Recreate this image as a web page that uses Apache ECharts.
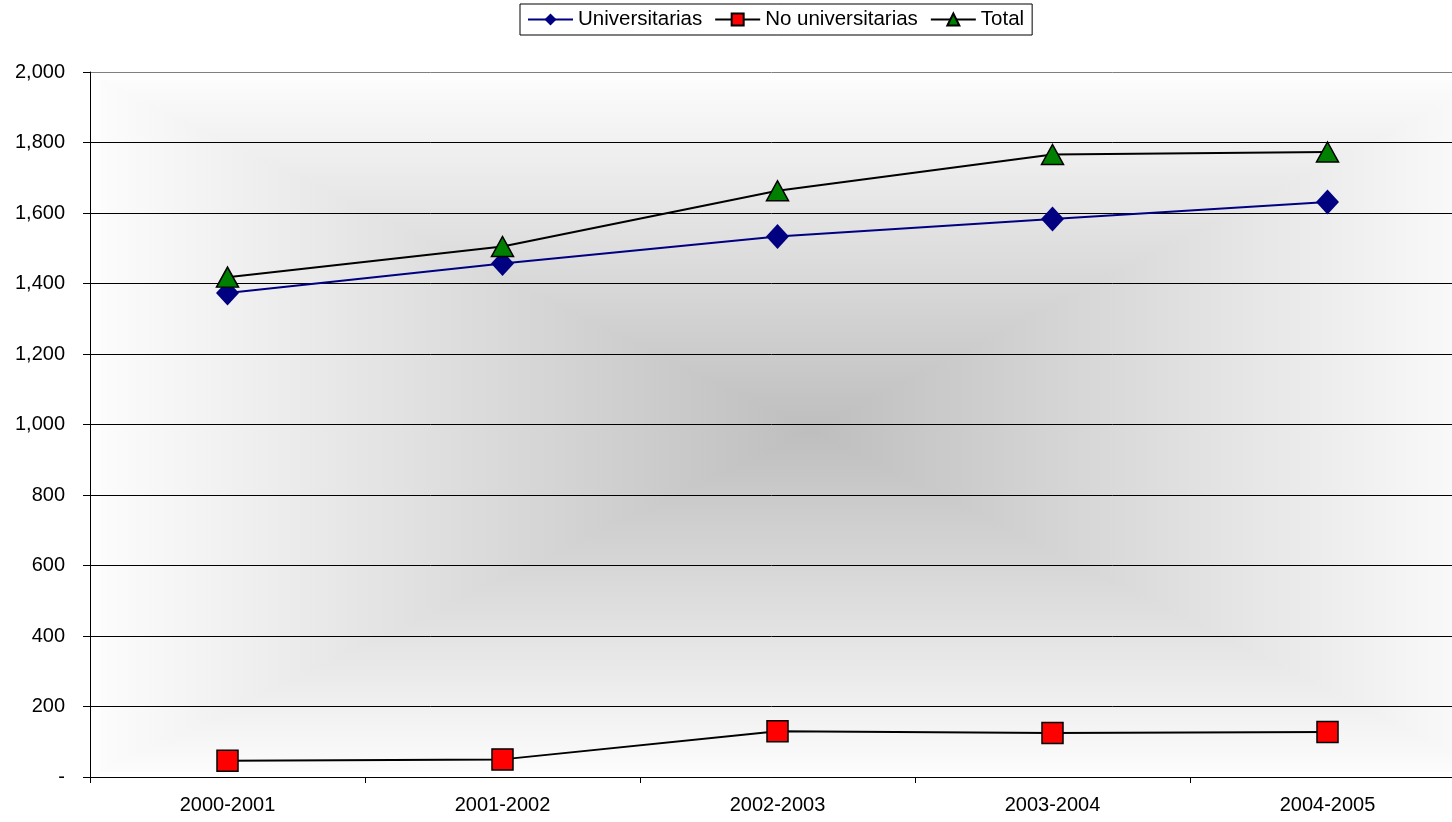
<!DOCTYPE html>
<html>
<head>
<meta charset="utf-8">
<script src="https://cdn.jsdelivr.net/npm/echarts@6/dist/echarts.min.js"></script>
<style>
  html, body { margin: 0; padding: 0; background: #ffffff; }
  #chart { width: 1452px; height: 822px; }
</style>
</head>
<body>
<div id="chart"></div>
<script>
// Academic years on the category axis
const years = ['2000-2001', '2001-2002', '2002-2003', '2003-2004', '2004-2005'];

// Series values
const universitarias = [1373, 1457, 1533, 1583, 1631];
const noUniversitarias = [46, 50, 130, 125, 128];
const total = [1418, 1505, 1663, 1766, 1773];

// Value axis range
const yMin = 0;
const yMax = 2000;
const yStep = 200;

const FONT = '"Liberation Sans", Arial, sans-serif';

const chart = echarts.init(document.getElementById('chart'));

// Plot-area shading: a rectangular "from centre" gradient built from a
// horizontally graded base plus top and bottom triangles graded vertically.
const shade = { x0: 100, y0: 80, x1: 1490, y1: 772, cx: 812, cy: 430 };
const dark = '#bebebe';
const light = '#fcfcfc';
function shadingElements() {
  const s = shade;
  const fx = (s.cx - s.x0) / (s.x1 - s.x0);
  return [
    {
      type: 'rect', z: -100, silent: true,
      shape: { x: s.x0, y: s.y0, width: s.x1 - s.x0, height: s.y1 - s.y0 },
      style: {
        fill: { type: 'linear', x: s.x0, y: 0, x2: s.x1, y2: 0, global: true,
          colorStops: [ { offset: 0, color: light }, { offset: fx, color: dark }, { offset: 1, color: light } ] }
      }
    },
    {
      type: 'polygon', z: -99, silent: true,
      shape: { points: [[s.x0, s.y0], [s.x1, s.y0], [s.cx, s.cy]] },
      style: {
        fill: { type: 'linear', x: 0, y: s.y0, x2: 0, y2: s.cy, global: true,
          colorStops: [ { offset: 0, color: light }, { offset: 1, color: dark } ] }
      }
    },
    {
      type: 'polygon', z: -99, silent: true,
      shape: { points: [[s.x0, s.y1], [s.x1, s.y1], [s.cx, s.cy]] },
      style: {
        fill: { type: 'linear', x: 0, y: s.cy, x2: 0, y2: s.y1, global: true,
          colorStops: [ { offset: 0, color: dark }, { offset: 1, color: light } ] }
      }
    }
  ];
}

// Horizontal grid lines: black, with the top one drawn grey as the frame edge
const splitColors = [];
for (let v = yMin; v <= yMax; v += yStep) splitColors.push(v === yMax ? '#808080' : '#000000');

function fmtValue(v) {
  if (v === 0) return '-';
  return v.toLocaleString('en-US');
}

const option = {
  animation: false,
  backgroundColor: '#ffffff',
  textStyle: { fontFamily: FONT },
  graphic: { elements: shadingElements() },
  legend: {
    left: 520,
    top: 4,
    padding: [5, 8, 5, 7],
    itemGap: 12,
    itemWidth: 45,
    itemHeight: 15,
    borderColor: '#000000',
    borderWidth: 1,
    borderRadius: 0,
    backgroundColor: '#ffffff',
    textStyle: { fontFamily: FONT, fontSize: 20.5, color: '#000000', padding: [0, 0, 0, 0] },
    data: ['Universitarias', 'No universitarias', 'Total']
  },
  grid: {
    left: 90,
    top: 72,
    width: 1375,
    bottom: 45,
    containLabel: false,
    outerBoundsMode: 'none'
  },
  xAxis: {
    type: 'category',
    data: years,
    boundaryGap: true,
    axisLine: { lineStyle: { color: '#000000', width: 1 } },
    axisTick: { show: true, length: 6, lineStyle: { color: '#000000' } },
    axisLabel: { color: '#000000', fontSize: 20, fontFamily: FONT, margin: 18 },
    splitLine: { show: false }
  },
  yAxis: {
    type: 'value',
    min: yMin,
    max: yMax,
    interval: yStep,
    axisLine: { show: true, lineStyle: { color: '#000000', width: 1 } },
    axisTick: { show: true, length: 7, lineStyle: { color: '#000000' } },
    axisLabel: { color: '#000000', fontSize: 20, fontFamily: FONT, margin: 25, formatter: fmtValue },
    splitLine: { show: true, lineStyle: { color: splitColors, width: 1 } }
  },
  series: [
    {
      name: 'Universitarias',
      type: 'line',
      data: universitarias,
      symbol: 'diamond',
      symbolSize: [23, 25],
      z: 3,
      lineStyle: { color: '#000080', width: 2 },
      itemStyle: { color: '#000080', borderColor: '#000080', borderWidth: 0 }
    },
    {
      name: 'No universitarias',
      type: 'line',
      data: noUniversitarias,
      symbol: 'rect',
      symbolSize: 21,
      z: 3,
      lineStyle: { color: '#000000', width: 2 },
      itemStyle: { color: '#ff0000', borderColor: '#000000', borderWidth: 1.5 }
    },
    {
      name: 'Total',
      type: 'line',
      data: total,
      symbol: 'triangle',
      symbolSize: [22, 20],
      z: 4,
      lineStyle: { color: '#000000', width: 2 },
      itemStyle: { color: '#008000', borderColor: '#000000', borderWidth: 1.5 }
    }
  ]
};

chart.setOption(option);
</script>
</body>
</html>
